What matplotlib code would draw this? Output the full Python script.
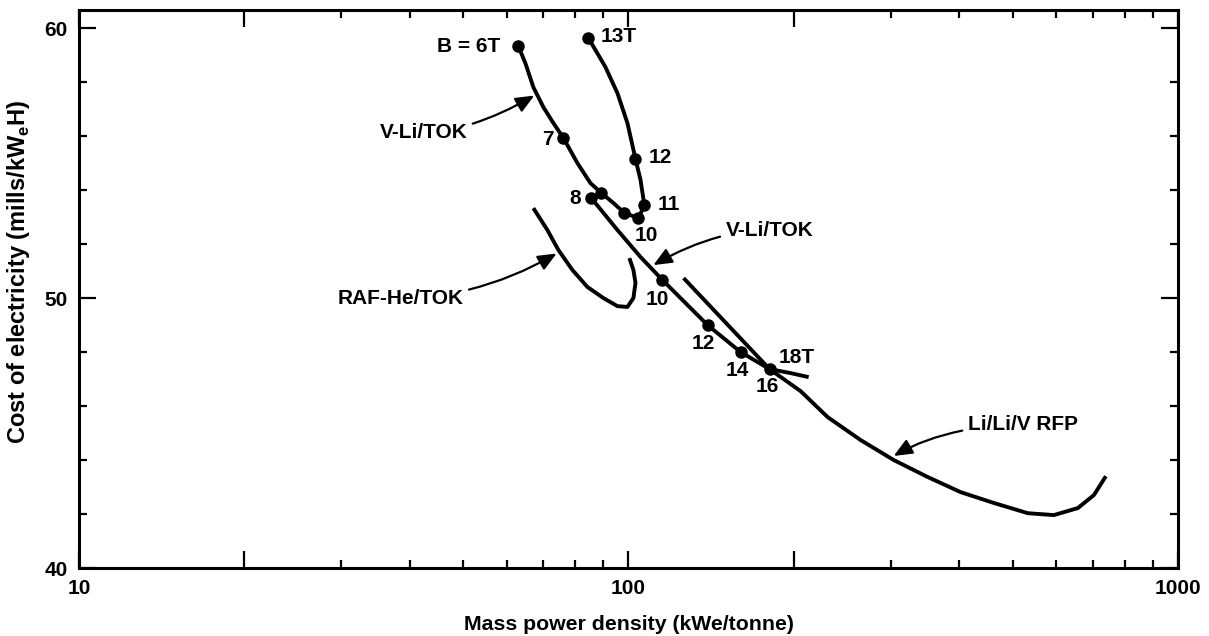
import numpy as np
import matplotlib
matplotlib.use("Agg")
import matplotlib.pyplot as plt
from matplotlib.ticker import FixedLocator, NullFormatter, FuncFormatter

plt.rcParams['font.family'] = ['Liberation Sans', 'DejaVu Sans']
plt.rcParams['font.weight'] = 'bold'
plt.rcParams['mathtext.fontset'] = 'custom'
plt.rcParams['mathtext.bf'] = 'Liberation Sans:bold'
plt.rcParams['mathtext.rm'] = 'Liberation Sans:bold'

# V-Li/TOK, B = 6T ... 13T (upper curve)
tok1_x = [63.05, 64.93, 67.14, 70.02, 73.02, 76.14, 80.74, 85.26, 89.28, 93.90, 98.34,
          104.3, 106.9, 105.2, 103.0, 99.58, 95.49, 90.79, 87.07, 84.55]
tok1_y = [59.33, 58.70, 57.81, 57.07, 56.48, 55.93, 55.00, 54.26, 53.89, 53.52, 53.15,
          52.96, 53.44, 54.37, 55.15, 56.48, 57.59, 58.56, 59.19, 59.63]
# marked field values (6T, 7, 8, 9, 10, 11, 12, 13T)
tok1_dot_x = [63.05, 76.14, 89.28, 98.34, 104.3, 106.9, 103.0, 84.55]
tok1_dot_y = [59.33, 55.93, 53.89, 53.15, 52.96, 53.44, 55.15, 59.63]

# V-Li/TOK lower curve, B = 8 ... 18T
tok2_x = [85.62, 95.49, 105.2, 115.3, 139.3, 160.0, 180.6, 197.3, 212.8]
tok2_y = [53.70, 52.52, 51.52, 50.67, 49.00, 48.00, 47.37, 47.22, 47.07]
tok2_dot_x = [85.62, 115.3, 139.3, 160.0, 180.6]
tok2_dot_y = [53.70, 50.67, 49.00, 48.00, 47.37]

# Li/Li/V RFP
rfp_x = [126.0, 180.6, 205.8, 230.4, 264.6, 303.9, 350.5, 402.4, 462.2, 533.2, 594.6,
         657.4, 703.1, 739.4]
rfp_y = [50.74, 47.37, 46.55, 45.59, 44.74, 44.00, 43.37, 42.81, 42.41, 42.03, 41.96,
         42.22, 42.70, 43.40]

# RAF-He/TOK
raf_x = [67.14, 71.20, 74.56, 79.07, 84.20, 90.03, 95.49, 99.58, 102.1, 103.0, 102.1, 100.4]
raf_y = [53.33, 52.52, 51.78, 51.04, 50.41, 50.00, 49.70, 49.67, 50.00, 50.56, 51.04, 51.48]

fig = plt.figure(figsize=(12.09, 6.36), dpi=100)
ax = fig.add_axes([0.0653, 0.1069, 0.9090, 0.8774])

lw = 2.8
for xs, ys in [(tok1_x, tok1_y), (tok2_x, tok2_y), (rfp_x, rfp_y), (raf_x, raf_y)]:
    ax.plot(xs, ys, color='black', lw=lw, solid_capstyle='butt', solid_joinstyle='round')
ax.plot(tok1_dot_x, tok1_dot_y, 'o', color='black', ms=8)
ax.plot(tok2_dot_x, tok2_dot_y, 'o', color='black', ms=8)

ax.set_xscale('log')
ax.set_xlim(10, 1000)
ax.set_ylim(40, 60.67)

# x ticks: labelled decades, long ticks at 20 and 200
ax.xaxis.set_major_locator(FixedLocator([10, 20, 100, 200, 1000]))
ax.xaxis.set_major_formatter(FuncFormatter(lambda v, p: '%d' % v if v in (10, 100, 1000) else ''))
ax.xaxis.set_minor_locator(FixedLocator([k * 10 ** d for d in (1, 2) for k in range(3, 10)]))
ax.xaxis.set_minor_formatter(NullFormatter())
ax.set_yticks([40, 50, 60])
ax.set_yticks(np.arange(42, 60, 2), minor=True)

ax.tick_params(which='both', direction='in', top=True, right=True, width=1.6, labelsize=15)
ax.tick_params(which='major', length=12, pad=8)
ax.tick_params(which='minor', length=6)
for t in ax.xaxis.get_major_ticks():
    if t.get_loc() in (10, 100, 1000):
        t.tick1line.set_markersize(6)
        t.tick2line.set_markersize(6)
for s in ax.spines.values():
    s.set_linewidth(2.2)

ax.set_xlabel('Mass power density (kWe/tonne)', fontsize=15.3, fontweight='bold', labelpad=12)
ax.set_ylabel(r'Cost of electricity (mills/kW$_\mathbf{e}$H)', fontsize=17, fontweight='bold')
ax.yaxis.set_label_coords(-0.043, 0.53)

lbl = dict(fontsize=15, fontweight='bold', va='center')
ax.text(58.5, 59.33, 'B = 6T', ha='right', **lbl)
ax.text(88.9, 59.67, '13T', ha='left', **lbl)
ax.text(73.0, 55.89, '7', ha='right', **lbl)
ax.text(82.1, 53.67, '8', ha='right', **lbl)
ax.text(108.7, 55.19, '12', ha='left', **lbl)
ax.text(112.9, 53.48, '11', ha='left', **lbl)
ax.text(107.8, 52.33, '10', ha='center', **lbl)
ax.text(112.9, 49.93, '10', ha='center', **lbl)
ax.text(136.9, 48.33, '12', ha='center', **lbl)
ax.text(157.9, 47.33, '14', ha='center', **lbl)
ax.text(179.1, 46.74, '16', ha='center', **lbl)
ax.text(187.7, 47.78, '18T', ha='left', **lbl)

arrow = dict(arrowstyle='-|>,head_length=0.7,head_width=0.3', color='black', lw=1.6,
             shrinkA=2, shrinkB=0, mutation_scale=16)
ax.annotate('V-Li/TOK', xy=(67.4, 57.5), xytext=(50.9, 56.15), ha='right', **lbl,
            arrowprops=dict(connectionstyle='angle3,angleA=0,angleB=30', **arrow))
ax.annotate('V-Li/TOK', xy=(111.0, 51.22), xytext=(150.2, 52.52), ha='left', **lbl,
            arrowprops=dict(connectionstyle='angle3,angleA=0,angleB=30', **arrow))
ax.annotate('RAF-He/TOK', xy=(74.0, 51.65), xytext=(50.1, 50.0), ha='right', **lbl,
            arrowprops=dict(connectionstyle='angle3,angleA=0,angleB=30', **arrow))
ax.annotate('Li/Li/V RFP', xy=(303.9, 44.15), xytext=(414.5, 45.3), ha='left', **lbl,
            arrowprops=dict(connectionstyle='angle3,angleA=0,angleB=30', **arrow))

fig.savefig('out.png', dpi=100)
